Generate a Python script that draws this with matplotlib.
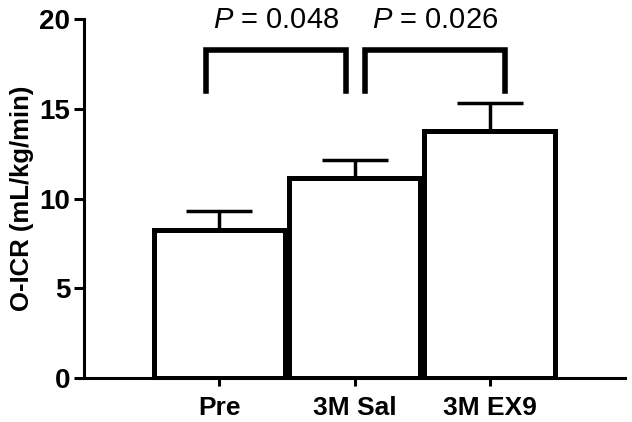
import matplotlib
matplotlib.use("Agg")
import matplotlib.pyplot as plt

categories = ["Pre", "3M Sal", "3M EX9"]
means = [8.27, 11.14, 13.76]
sems = [1.03, 0.98, 1.58]
yticks = [0, 5, 10, 15, 20]
comparisons = [(0, 1, "0.048"), (1, 2, "0.026")]

plt.rcParams['font.family'] = ['Liberation Sans', 'DejaVu Sans']
plt.rcParams['mathtext.fontset'] = 'custom'
plt.rcParams['mathtext.it'] = 'Liberation Sans:italic'

fig = plt.figure(figsize=(6.32, 4.22), dpi=100)
ax = fig.add_axes([0.133, 0.104, 0.856, 0.851])

x = list(range(len(categories)))
ax.bar(x, means, width=0.97, color='white', edgecolor='black', linewidth=3.6, zorder=2)
ax.errorbar(x, means, yerr=[[0]*len(means), sems], fmt='none', ecolor='black',
            elinewidth=2.5, capsize=24, capthick=2.5, zorder=1)

ax.set_xlim(-1.0, 3.0)
ax.set_ylim(0, 20)
ax.set_yticks(yticks)
ax.set_yticklabels([str(t) for t in yticks], fontsize=20, fontweight='bold')
ax.set_xticks(x)
ax.set_xticklabels(categories, fontsize=19, fontweight='bold')
ax.tick_params(axis='y', length=7, width=2.2, pad=3)
ax.tick_params(axis='x', length=6, width=2.2, pad=7)
for s in ['top', 'right']:
    ax.spines[s].set_visible(False)
for s in ['left', 'bottom']:
    ax.spines[s].set_linewidth(2.2)
ax.set_ylabel("O-ICR (mL/kg/min)", fontsize=18.5, fontweight='bold', labelpad=4)

# significance brackets
offsets = [(-0.1, -0.06), (0.08, 0.11)]
for (i, j, p), (dl, dr) in zip(comparisons, offsets):
    xl, xr = i + dl, j + dr
    ax.plot([xl, xl, xr, xr], [16.0, 18.27, 18.27, 16.0], color='black', lw=4,
            solid_joinstyle='miter', clip_on=False, zorder=3)
    ax.text((xl + xr) / 2, 19.5, r"$\it{P}$ = " + p, ha='center', va='baseline',
            fontsize=21, clip_on=False)

fig.savefig("out.png", dpi=100)
